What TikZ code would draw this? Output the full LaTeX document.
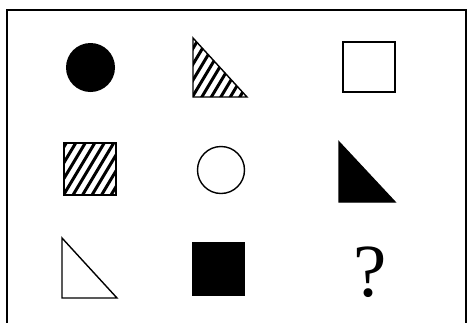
\documentclass[tikz,border=0pt]{standalone}
\usepackage{fontspec}
\newfontfamily\qfont{Liberation Serif}
\begin{document}
\begin{tikzpicture}[x=1pt,y=-1pt,
  outl/.style={draw=black,line width=1.4pt,line join=miter},
  solid fill/.style={outl,fill=black},
  hatchline/.style={line width=3pt,black}]
\useasboundingbox (0,0) rectangle (472,322);
\fill[white] (0,0) rectangle (472,322);
\draw[line width=1.5pt] (7,330) -- (7,10) -- (466,10) -- (466,330);
% row 1
\node[circle,fill=black,minimum size=49pt,inner sep=0pt] (c1) at (90.5,67.5) {};
\begin{scope}
  \clip (193,38) -- (193,97) -- (247,97) -- cycle;
  \foreach \i in {-10,...,20} {
    \draw[hatchline] (150+\i*9.5,120) -- (210+\i*9.5,20);
  }
\end{scope}
\draw[outl] (193,38) -- (193,97) -- (247,97) -- cycle;
\draw[outl] (343,42) rectangle (395,92);
% row 2
\begin{scope}
  \clip (64,143) rectangle (116,195);
  \foreach \i in {-10,...,20} {
    \draw[hatchline] (20+\i*9.5,220) -- (80+\i*9.5,120);
  }
\end{scope}
\draw[outl] (64,143) rectangle (116,195);
\node[circle,outl,minimum size=47pt,inner sep=0pt] (c2) at (221,170) {};
\fill[solid fill] (339,142) -- (339,202) -- (395,202) -- cycle;
% row 3
\draw[outl] (62,238) -- (62,298) -- (117,298) -- cycle;
\fill[solid fill] (193,243) rectangle (244,295);
\node[inner sep=0pt,font=\qfont\fontsize{75}{75}\selectfont] (q) at (370,272) {?};
\end{tikzpicture}
\end{document}
